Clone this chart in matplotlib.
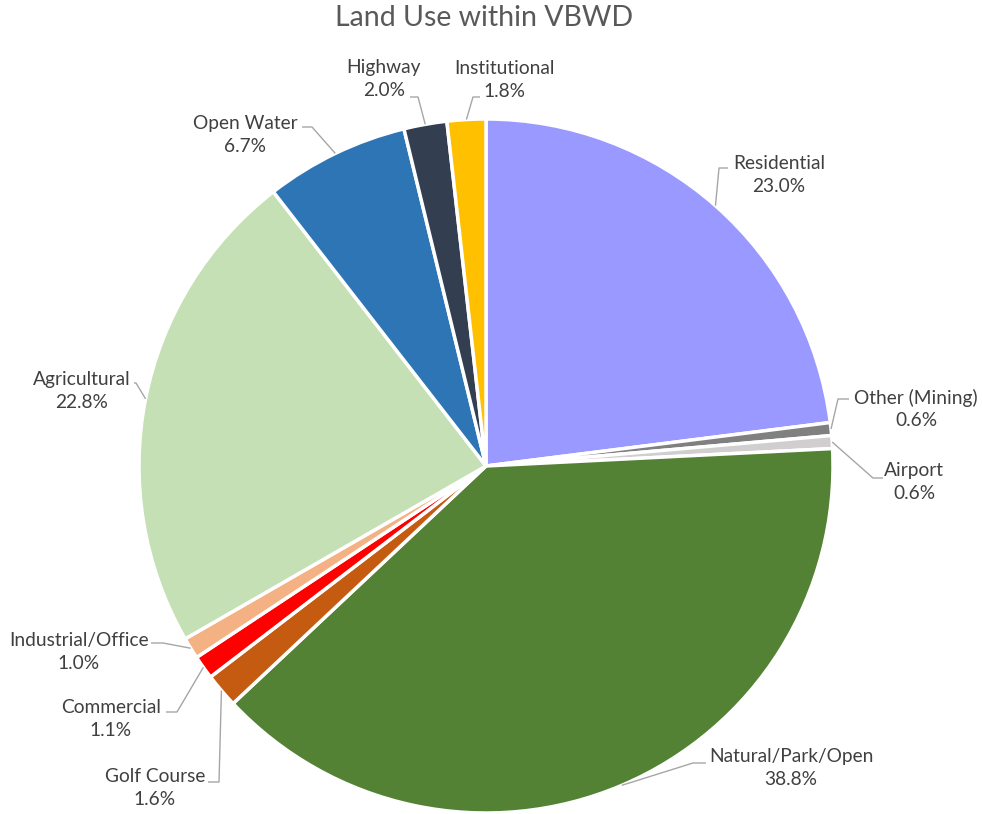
import numpy
from matplotlib import pyplot

# land use shares, clockwise from 12 o'clock
categories = ["Residential", "Other (Mining)", "Airport", "Natural/Park/Open",
              "Golf Course", "Commercial", "Industrial/Office", "Agricultural",
              "Open Water", "Highway", "Institutional"]
shares = [23.0, 0.6, 0.6, 38.8, 1.6, 1.1, 1.0, 22.8, 6.7, 2.0, 1.8]
colors = ["#9999FF", "#808080", "#D0CECE", "#548235", "#C55A11", "#FF0000",
          "#F4B183", "#C5E0B4", "#2E75B6", "#333F50", "#FFC000"]

W, H = 982, 814
CX, CY, R = 486, 466, 347  # pie centre / radius in pixels (from top)

# label layout in pixels from top-left: text centre, elbow, line end
label_pos = [(779, 175), (916, 409), (914, 482), (791, 768), (155, 788),
             (111, 719), (79, 652), (82, 391), (245, 135), (384, 79), (504, 80)]
elbows = [(719, 168), (838, 399), (873, 478), (693, 763), (219, 782),
          (177, 712), (163, 643), (136, 383), (312, 127), (418, 97), (473, 97)]
ends = [(728, 168), (849, 399), (883, 478), (706, 763), (208, 782),
        (166, 712), (151, 643), (134, 383), (302, 127), (410, 97), (480, 97)]

pyplot.rcParams["font.family"] = ["Lato", "DejaVu Sans"]

fig = pyplot.figure(figsize=(W / 100, H / 100), dpi=100)
ax = fig.add_axes([0, 0, 1, 1])

wedges, _ = ax.pie(shares, colors=colors, startangle=90, counterclock=False,
                   center=(CX, H - CY), radius=R,
                   wedgeprops=dict(edgecolor="white", linewidth=2.5))
ax.set_xlim(0, W)
ax.set_ylim(0, H)
ax.set_aspect("equal")
ax.axis("off")

for w, name, val, (tx, ty), (ex, ey), (nx, ny) in zip(
        wedges, categories, shares, label_pos, elbows, ends):
    ang = numpy.deg2rad((w.theta1 + w.theta2) / 2)
    px = CX + R * numpy.cos(ang)
    py = (H - CY) + R * numpy.sin(ang)
    ax.plot([px, ex, nx], [py, H - ey, H - ny], color="#A6A6A6", lw=1,
            solid_capstyle="butt", zorder=1)
    ax.text(tx, H - ty, "{0}\n{1:.1f}%".format(name, val), ha="center",
            va="center", fontsize=13.8, color="#404040", linespacing=1.4)

ax.text(484, H - 18, "Land Use within VBWD", ha="center", va="center",
        fontsize=20.5, color="#595959")

fig.savefig("out.png", dpi=100)
